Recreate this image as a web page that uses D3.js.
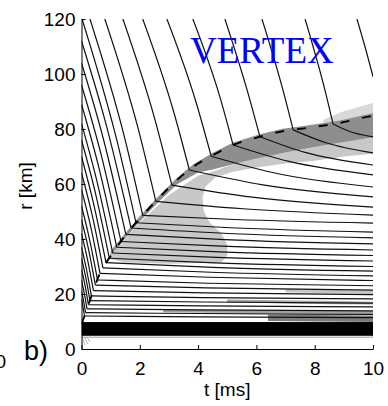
<!DOCTYPE html>
<html>
<head>
<meta charset="utf-8">
<script src="https://cdn.jsdelivr.net/npm/d3@7"></script>
<style>
  body { margin: 0; background: #fff; }
  svg { display: block; }
  .tick text, .lbl { font-family: "Liberation Sans", Arial, sans-serif; }
</style>
</head>
<body>
<script>
const w = 388
const h = 406

// Axis ticks
const tTicks = [0, 2, 4, 6, 8, 10]
const rTicks = [0, 20, 40, 60, 80, 100, 120]

// Shock radius vs time (dashed line)
const shockT = [0, 0.2, 0.4, 0.63, 0.85, 1.08, 1.56, 2.0, 2.59, 3.28, 3.84, 4.51, 5.21, 6.12, 6.9, 7.74, 8.87, 9.79, 10]
const shockR = [9, 15, 21, 27.5, 31.5, 35, 42.1, 47.5, 54.2, 61.5, 66.3, 70.5, 74.2, 77.2, 79.2, 80.4, 82.2, 84.4, 84.8]

// Mass shells before they hit the shock, [t, r]
const preShock = [
  [[0, 18], [0.05, 15.3], [0.105, 12.0]],
  [[0, 21], [0.07, 17.5], [0.14, 13.2]],
  [[0, 25], [0.095, 20.3], [0.19, 14.6]],
  [[0, 29], [0.12, 23.2], [0.238, 16.1]],
  [[0, 33], [0.145, 26.1], [0.29, 17.6]],
  [[0, 37], [0.17, 29.0], [0.34, 19.3]],
  [[0, 42], [0.205, 32.6], [0.41, 21.2]],
  [[0, 47], [0.24, 36.3], [0.475, 23.2]],
  [[0, 52], [0.275, 39.9], [0.55, 25.1]],
  [[0, 58], [0.32, 44.3], [0.635, 27.5]],
  [[0, 64], [0.37, 48.5], [0.735, 29.5]],
  [[0, 70], [0.42, 52.6], [0.84, 31.4]],
  [[0, 76], [0.48, 56.6], [0.955, 33.0]],
  [[0, 82], [0.535, 60.8], [1.07, 34.9]],
  [[0, 89], [0.605, 65.6], [1.21, 37.0]],
  [[0, 96], [0.68, 70.4], [1.355, 39.1]],
  [[0, 104], [0.76, 76.0], [1.52, 41.7]],
  [[0, 112], [0.85, 81.4], [1.70, 44.0]],
  [[0.02, 120], [1.22, 75.6], [1.87, 45.9]],
  [[0.29, 120], [1.47, 77.2], [2.1, 48.6]],
  [[0.8, 120], [1.94, 80.3], [2.55, 53.7]],
  [[1.42, 120], [2.51, 83.8], [3.1, 59.6]],
  [[2.1, 120], [3.14, 87.1], [3.7, 65.1]],
  [[2.93, 120], [3.92, 90.1], [4.45, 70.1]],
  [[3.82, 120], [4.75, 91.6], [5.2, 74.2]],
  [[4.92, 120], [5.68, 94.2], [6.12, 77.2]],
  [[6.19, 120], [6.91, 94.2], [7.26, 79.7]],
  [[7.67, 120], [8.35, 94.2], [8.63, 81.8]],
  [[9.45, 120], [9.75, 109], [10, 99]]
]

// Same shells after the shock, [t, r]
const postShock = [
  [[0.105, 12.0], [4.06, 11.7], [10, 11.4]],
  [[0.14, 13.2], [4.08, 12.9], [10, 12.6]],
  [[0.19, 14.6], [4.11, 14.2], [10, 13.9]],
  [[0.238, 16.1], [4.14, 15.7], [10, 15.3]],
  [[0.29, 17.6], [4.17, 17.1], [10, 16.7]],
  [[0.34, 19.3], [4.2, 18.7], [10, 18.2]],
  [[0.41, 21.2], [4.25, 20.4], [10, 19.8]],
  [[0.475, 23.2], [4.29, 22.2], [10, 21.4]],
  [[0.55, 25.1], [4.33, 23.9], [10, 23.0]],
  [[0.635, 27.5], [4.38, 26.1], [10, 24.9]],
  [[0.735, 29.5], [4.44, 27.9], [10, 26.6]],
  [[0.84, 31.4], [4.5, 29.7], [10, 28.3]],
  [[0.955, 33.0], [4.57, 31.35], [10, 30.0]],
  [[1.07, 34.9], [4.64, 33.3], [10, 32.0]],
  [[1.21, 37.0], [4.73, 35.35], [10, 34.0]],
  [[1.355, 39.1], [4.81, 37.4], [10, 36.0]],
  [[1.52, 41.7], [4.91, 39.8], [10, 38.2]],
  [[1.70, 44.0], [5.02, 42.0], [10, 40.4]],
  [[1.87, 45.9], [5.12, 44.1], [10, 42.5]],
  [[2.1, 48.6], [5.26, 47.1], [10, 45.8]],
  [[2.55, 53.7], [5.53, 51.0], [10, 48.7]],
  [[3.1, 59.6], [5.86, 55.2], [10, 51.6]],
  [[3.7, 65.1], [6.22, 59.7], [10, 55.3]],
  [[4.45, 70.1], [6.67, 63.9], [10, 58.9]],
  [[5.2, 74.2], [7.12, 68.2], [10, 63.3]],
  [[6.12, 77.2], [7.67, 71.5], [10, 66.9]],
  [[7.26, 79.7], [8.36, 75.1], [10, 71.3]],
  [[8.63, 81.8], [9.18, 79.2], [10, 77.1]]
]

// Dense inner core (black band), r range
const coreR = [4.8, 9.8]

// Grey shading regions, polygons in [t, r]
const haloRegion = [[8.3, 83.5], [9, 86.5], [10, 89.5], [10, 84.8], [9.79, 84.4], [8.87, 82.2], [8.3, 81.3]]
const darkRegion = [[1.0, 35.6], [1.56, 42.8], [2, 48.3], [2.59, 55.0], [3.28, 62.3], [3.84, 67.2], [4.51, 71.4],
  [5.21, 75.1], [6.12, 78.1], [6.9, 80.1], [7.74, 81.3], [8.87, 83.1], [9.79, 85.3], [10, 85.7],
  [10, 77], [9, 75.3], [8, 73.5], [7, 71.5], [6, 69.3], [5, 66.6], [4.5, 65.3], [4, 64.2],
  [3.28, 59.9], [2.59, 52.9], [2, 46.4], [1.56, 41.0], [1.0, 34.0]]
const lightRegion = [[0.9, 33], [1, 34], [2, 46], [3, 56], [4, 63], [4.5, 64.5], [5, 66.5], [6, 69.5],
  [7, 71.5], [8, 73.5], [9, 75.5], [10, 77], [10, 71], [9, 70], [8, 68.5], [7, 67.5], [6, 66],
  [5.2, 64.5], [4.6, 62.5], [4.25, 59], [4.15, 55], [4.2, 50], [4.4, 46], [4.8, 42], [5.0, 38],
  [5.0, 34], [4.8, 31.5], [3, 31], [1.5, 31.5]]

// Grey strips between shells in the lower part, [t, rTop, rBottom]
const strips = [
  [[2.8, 14.4, 13.4], [6, 14.1, 13.1], [10, 13.8, 12.8]],
  [[6.4, 12.5, 10.2], [8, 12.4, 10.0], [10, 12.2, 9.8]],
  [[5, 18.0, 16.9], [7.5, 17.6, 16.5], [10, 17.2, 16.2]],
  [[7, 21.8, 20.6], [10, 21.2, 20.0]]
]
const stripColors = ["#a0a0a0", "#7c7c7c", "#a8a8a8", "#c4c4c4"]

// Faint streaks near the origin
const streaks = [
  [[0.02, 4.3], [0.12, 1.4]],
  [[0.1, 4.3], [0.22, 1.8]],
  [[0.18, 4.3], [0.3, 2.6]]
]

const x = d3.scaleLinear().domain([0, 10]).range([81.5, 373])
const y = d3.scaleLinear().domain([0, 120]).range([349, 19])

const svg = d3.select("body")
              .append("svg")
              .attr("width", w)
              .attr("height", h)

svg.append("rect").attr("width", w).attr("height", h).attr("fill", "#fff")

svg.append("clipPath").attr("id", "plot")
   .append("rect")
   .attr("x", x(0)).attr("y", y(120))
   .attr("width", x(10) - x(0)).attr("height", y(0) - y(120))

const plot = svg.append("g").attr("clip-path", "url(#plot)")

const poly = d3.line().x(d => x(d[0])).y(d => y(d[1])).curve(d3.curveLinearClosed)
const smooth = d3.line().x(d => x(d[0])).y(d => y(d[1])).curve(d3.curveMonotoneX)

// shading
plot.append("path").attr("d", poly(lightRegion)).attr("fill", "#c8c8c8")
plot.append("path").attr("d", poly(haloRegion)).attr("fill", "#d8d8d8")
plot.append("path").attr("d", poly(darkRegion)).attr("fill", "#8e8e8e")

const stripArea = d3.area().x(d => x(d[0])).y0(d => y(d[2])).y1(d => y(d[1])).curve(d3.curveMonotoneX)
plot.selectAll(".strip")
    .data(strips)
    .enter()
    .append("path")
    .attr("class", "strip")
    .attr("d", stripArea)
    .attr("fill", (d, i) => stripColors[i])

// core band
plot.append("rect")
    .attr("x", x(0)).attr("width", x(10) - x(0))
    .attr("y", y(coreR[1])).attr("height", y(coreR[0]) - y(coreR[1]))
    .attr("fill", "#000")
plot.append("line")
    .attr("x1", x(0)).attr("x2", x(10))
    .attr("y1", y(coreR[0] - 0.5)).attr("y2", y(coreR[0] - 0.5))
    .attr("stroke", "#9a9a9a").attr("stroke-width", 1)

plot.selectAll(".streak")
    .data(streaks)
    .enter()
    .append("path")
    .attr("class", "streak")
    .attr("d", smooth)
    .attr("fill", "none")
    .attr("stroke", "#b0b0b0")
    .attr("stroke-width", 1)

// shell trajectories
plot.selectAll(".pre")
    .data(preShock)
    .enter()
    .append("path")
    .attr("class", "pre")
    .attr("d", smooth)
    .attr("fill", "none")
    .attr("stroke", "#111")
    .attr("stroke-width", 1.2)

plot.selectAll(".post")
    .data(postShock)
    .enter()
    .append("path")
    .attr("class", "post")
    .attr("d", smooth)
    .attr("fill", "none")
    .attr("stroke", "#111")
    .attr("stroke-width", 1.2)

// shock
const shock = shockT.map((t, i) => [t, shockR[i]])
plot.append("path")
    .attr("d", smooth(shock))
    .attr("fill", "none")
    .attr("stroke", "#000")
    .attr("stroke-width", 1.9)
    .attr("stroke-dasharray", "9,13")

// axes
const xAxis = d3.axisBottom(x).tickValues(tTicks).tickSizeInner(-4).tickSizeOuter(0).tickPadding(13)
const yAxis = d3.axisLeft(y).tickValues(rTicks).tickSizeInner(-4).tickSizeOuter(0).tickPadding(6)

const gx = svg.append("g").attr("transform", `translate(0, ${y(0)})`).call(xAxis)
const gy = svg.append("g").attr("transform", `translate(${x(0)}, 0)`).call(yAxis)

;[gx, gy].forEach(g => {
  g.selectAll("path, line").attr("stroke", "#000")
  g.selectAll("text").attr("font-size", 19).attr("fill", "#000")
})
gy.selectAll("text").attr("dy", "0.36em")

svg.append("text")
   .attr("class", "lbl")
   .attr("transform", `translate(32, ${(y(0) + y(120)) / 2 + 2}) rotate(-90)`)
   .attr("text-anchor", "middle")
   .attr("font-size", 19)
   .text("r [km]")

svg.append("text")
   .attr("class", "lbl")
   .attr("x", (x(0) + x(10)) / 2)
   .attr("y", 396)
   .attr("text-anchor", "middle")
   .attr("font-size", 19)
   .text("t [ms]")

svg.append("text")
   .attr("class", "lbl")
   .attr("x", 24)
   .attr("y", 360)
   .attr("font-size", 27)
   .text("b)")

// tick label of the neighbouring panel, cut by the left edge as in the original
svg.append("text")
   .attr("class", "lbl")
   .attr("x", 6)
   .attr("y", 368)
   .attr("text-anchor", "end")
   .attr("font-size", 19)
   .text("10")

svg.append("text")
   .attr("x", 190)
   .attr("y", 63)
   .attr("font-family", "'Liberation Serif', 'Times New Roman', serif")
   .attr("font-size", 37)
   .attr("fill", "#0000ff")
   .text("VERTEX")
</script>
</body>
</html>
